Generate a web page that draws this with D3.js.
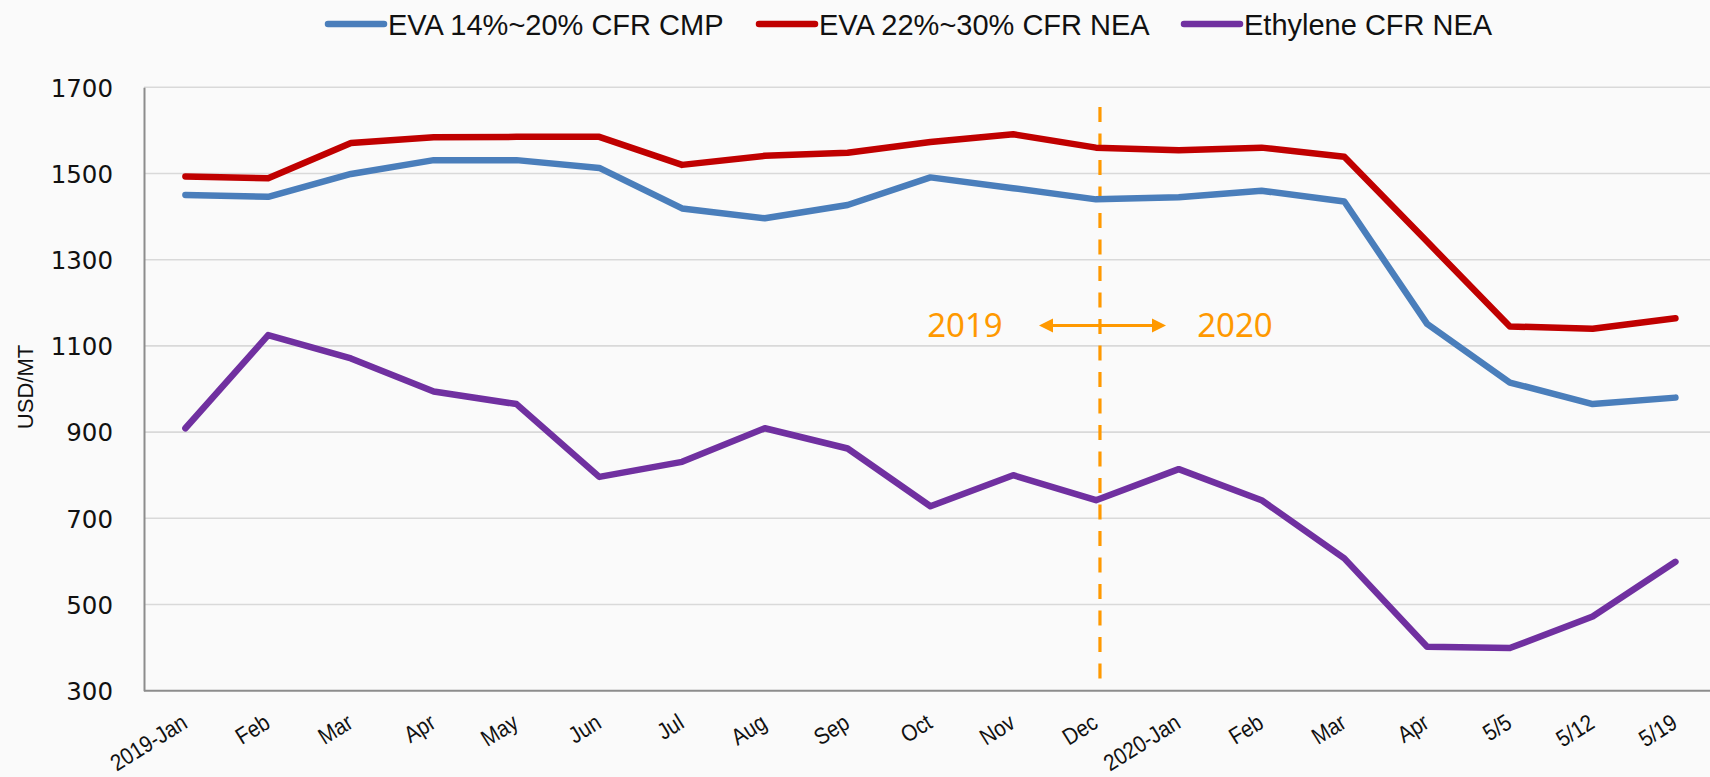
<!DOCTYPE html>
<html>
<head>
<meta charset="utf-8">
<script src="https://cdn.jsdelivr.net/npm/d3@7"></script>
<style>
  html, body { margin: 0; padding: 0; background: #fafafa; }
  svg { display: block; }
</style>
</head>
<body>
<svg id="chart" width="1710" height="777"></svg>
<script>
const categories = ["2019-Jan","Feb","Mar","Apr","May","Jun","Jul","Aug","Sep","Oct","Nov","Dec","2020-Jan","Feb ","Mar ","Apr ","5/5","5/12","5/19"];
const eva1420 = [1450,1446,1499,1531,1531,1513,1419,1396,1427,1491,1466,1440,1445,1460,1435,1151,1015,965,980];
const eva2230 = [1493,1489,1571,1584,1585,1585,1520,1541,1548,1573,1591,1560,1554,1560,1539,1342,1145,1140,1164];
const ethylene = [909,1125,1071,994,965,796,831,909,862,728,800,742,814,742,607,402,399,472,599];
const seriesNames = ["EVA 14%~20% CFR CMP","EVA 22%~30% CFR NEA","Ethylene CFR NEA"];
const seriesColors = ["#4A7EBB","#C00000","#7030A0"];
const yTicks = [300,500,700,900,1100,1300,1500,1700];
const yLabel = "USD/MT";
const dividerCategory = "Dec";
const leftYearLabel = "2019";
const rightYearLabel = "2020";

(function () {
const svg = d3.select("#chart");
const mLeft = 144, mRight = 1710, mTop = 87.3, mBottom = 690.7;
const step = 82.78;

const x = d3.scalePoint().domain(categories).range([mLeft + step/2, mLeft + step/2 + step*(categories.length-1)]);
const y = d3.scaleLinear().domain([300,1700]).range([mBottom, mTop]);

// gridlines
svg.append("g").selectAll("line").data(yTicks.filter(d => d !== 300)).join("line")
  .attr("x1", mLeft).attr("x2", mRight)
  .attr("y1", d => y(d)).attr("y2", d => y(d))
  .attr("stroke", "#d9d9d9").attr("stroke-width", 1.6);

// y axis
const yAxis = d3.axisLeft(y).tickValues(yTicks).tickSize(0).tickPadding(31).tickFormat(d3.format("d"));
const gy = svg.append("g").attr("transform", `translate(${mLeft},0)`).call(yAxis);
gy.select(".domain").attr("stroke", "#8c8c8c").attr("stroke-width", 2);
gy.selectAll("text").attr("font-family", "DejaVu Sans").attr("font-size", 24.5).attr("fill", "#111").attr("dy", "0.36em");

// x axis
const xAxis = d3.axisBottom(x).tickSize(0).tickFormat(d => d.trim());
const gx = svg.append("g").attr("transform", `translate(0,${mBottom})`).call(xAxis);
gx.select(".domain").attr("d", `M${mLeft},0H${mRight}`).attr("stroke", "#8c8c8c").attr("stroke-width", 2);
gx.selectAll("text")
  .attr("font-family", "Liberation Sans").attr("font-size", 21.5).attr("fill", "#111")
  .attr("text-anchor", "end").attr("x", 0).attr("y", 0).attr("dy", 0)
  .attr("transform", "translate(3,36) rotate(-32) scale(0.95,1.08)");

// y label
svg.append("text").text(yLabel)
  .attr("transform", "translate(33,387) rotate(-90)")
  .attr("text-anchor", "middle")
  .attr("font-family", "Liberation Sans").attr("font-size", 22).attr("fill", "#111");

// divider
const dvx = x(dividerCategory) + 4;
svg.append("line").attr("x1", dvx).attr("x2", dvx).attr("y1", 107).attr("y2", 684)
  .attr("stroke", "#FF9900").attr("stroke-width", 3.2).attr("stroke-dasharray", "15,11.5");

// annotation arrow
const ay = 325.5;
svg.append("line").attr("x1", 1050).attr("x2", 1154).attr("y1", ay).attr("y2", ay)
  .attr("stroke", "#FF9900").attr("stroke-width", 3);
svg.append("path").attr("d", `M1039,${ay} L1053,${ay-7} L1053,${ay+7} Z`).attr("fill", "#FF9900");
svg.append("path").attr("d", `M1166,${ay} L1152,${ay-7} L1152,${ay+7} Z`).attr("fill", "#FF9900");
svg.append("text").text(leftYearLabel).attr("x", 965).attr("y", 337)
  .attr("text-anchor", "middle").attr("font-family", "Noto Sans").attr("font-size", 33).attr("fill", "#FF9900");
svg.append("text").text(rightYearLabel).attr("x", 1235).attr("y", 337)
  .attr("text-anchor", "middle").attr("font-family", "Noto Sans").attr("font-size", 33).attr("fill", "#FF9900");

// lines
const allSeries = [eva1420, eva2230, ethylene];
const line = d3.line().x((d, i) => x(categories[i])).y(d => y(d));
svg.append("g").selectAll("path").data(allSeries).join("path")
  .attr("d", d => line(d))
  .attr("fill", "none")
  .attr("stroke", (d, i) => seriesColors[i])
  .attr("stroke-width", 6.5)
  .attr("stroke-linejoin", "round")
  .attr("stroke-linecap", "round");

// legend
const legendX = [328, 759, 1184];
const lg = svg.append("g").selectAll("g").data(seriesNames).join("g")
  .attr("transform", (d, i) => `translate(${legendX[i]},24)`);
lg.append("line").attr("x1", 0).attr("x2", 56).attr("y1", 0).attr("y2", 0)
  .attr("stroke", (d, i) => seriesColors[i]).attr("stroke-width", 6.5).attr("stroke-linecap", "round");
lg.append("text").text(d => d).attr("x", 60).attr("y", 10.5)
  .attr("font-family", "Liberation Sans").attr("font-size", 29).attr("fill", "#111");
})();
</script>
</body>
</html>
